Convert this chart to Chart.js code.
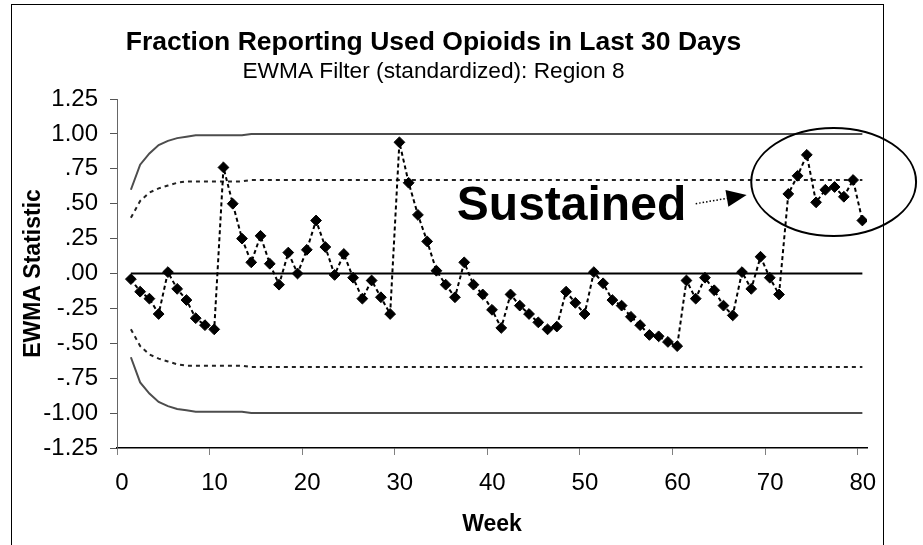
<!DOCTYPE html>
<html lang="en">

<head>
  <meta charset="UTF-8">
  <title>Fraction Reporting Used Opioids in Last 30 Days</title>
  <script src="https://cdn.jsdelivr.net/npm/chart.js"></script>
  <style>
    html, body { margin: 0; padding: 0; background: #fff; }
  </style>
</head>

<body>
  <canvas id="ewma-chart" width="923" height="545"></canvas>

  <script>
    // weeks 1..80
    const weeks = [
      1, 2, 3, 4, 5, 6, 7, 8, 9, 10, 11, 12, 13, 14, 15, 16, 17, 18, 19, 20,
      21, 22, 23, 24, 25, 26, 27, 28, 29, 30, 31, 32, 33, 34, 35, 36, 37, 38, 39, 40,
      41, 42, 43, 44, 45, 46, 47, 48, 49, 50, 51, 52, 53, 54, 55, 56, 57, 58, 59, 60,
      61, 62, 63, 64, 65, 66, 67, 68, 69, 70, 71, 72, 73, 74, 75, 76, 77, 78, 79, 80
    ];

    // standardized EWMA statistic, one value per week
    const ewma = [
      -0.04, -0.13, -0.18, -0.29, 0.01, -0.11, -0.19, -0.32, -0.37, -0.40,
      0.76, 0.50, 0.25, 0.08, 0.27, 0.07, -0.08, 0.15, 0.00, 0.17,
      0.38, 0.19, -0.01, 0.14, -0.03, -0.18, -0.05, -0.17, -0.29, 0.94,
      0.65, 0.42, 0.23, 0.02, -0.08, -0.17, 0.08, -0.08, -0.15, -0.26,
      -0.39, -0.15, -0.23, -0.29, -0.35, -0.40, -0.38, -0.13, -0.21, -0.29,
      0.01, -0.07, -0.19, -0.23, -0.31, -0.37, -0.44, -0.45, -0.49, -0.52,
      -0.05, -0.18, -0.03, -0.12, -0.23, -0.30, 0.01, -0.11, 0.12, -0.03,
      -0.15, 0.57, 0.70, 0.85, 0.51, 0.60, 0.62, 0.55, 0.67, 0.38
    ];

    // control limits: the curves only change over the first weeks, then stay flat
    const limitWeeks = [1, 2, 3, 4, 5, 6, 7, 8, 13, 14, 80];
    const upperOuter = [0.60, 0.78, 0.86, 0.92, 0.95, 0.97, 0.98, 0.99, 0.99, 1.00, 1.00];
    const upperInner = [0.40, 0.52, 0.58, 0.61, 0.63, 0.65, 0.66, 0.66, 0.66, 0.67, 0.67];
    const lowerInner = [-0.40, -0.52, -0.58, -0.61, -0.63, -0.65, -0.66, -0.66, -0.66, -0.67, -0.67];
    const lowerOuter = [-0.60, -0.78, -0.86, -0.92, -0.95, -0.97, -0.98, -0.99, -0.99, -1.00, -1.00];
    const centerLine = 0;

    const xTicks = [0, 10, 20, 30, 40, 50, 60, 70, 80];
    const yTicks = [-1.25, -1.00, -0.75, -0.50, -0.25, 0.00, 0.25, 0.50, 0.75, 1.00, 1.25];

    // each week sits in the middle of its slot on the axis
    const SLOT = 0.5;
    const FONT = "'Liberation Sans', Arial, sans-serif";

    function toPoints(xs, ys) {
      return xs.map((w, i) => ({ x: w + SLOT, y: ys[i] }));
    }

    // excel style labels: .75, -.25, 1.00
    function fmtY(v) {
      return v.toFixed(2).replace(/^(-?)0\./, '$1.');
    }

    // outer frame + "Sustained" callout
    const extras = {
      id: 'extras',
      beforeDraw(chart) {
        const ctx = chart.ctx;
        ctx.save();
        ctx.strokeStyle = '#000';
        ctx.lineWidth = 1;
        ctx.strokeRect(11.5, 4.5, 872, 600);
        ctx.restore();
      },
      afterDatasetsDraw(chart) {
        const { ctx, scales: { x, y } } = chart;
        ctx.save();
        ctx.fillStyle = '#000';
        ctx.strokeStyle = '#000';

        ctx.font = 'bold 48px ' + FONT;
        ctx.textBaseline = 'alphabetic';
        ctx.fillText('Sustained', x.getPixelForValue(36.7), y.getPixelForValue(0.384));

        // dotted arrow
        const x1 = x.getPixelForValue(62.5), y1 = y.getPixelForValue(0.50);
        const x2 = x.getPixelForValue(68.0), y2 = y.getPixelForValue(0.563);
        const ang = Math.atan2(y2 - y1, x2 - x1);
        const bx = x2 - 20 * Math.cos(ang), by = y2 - 20 * Math.sin(ang);
        ctx.lineWidth = 1.5;
        ctx.setLineDash([1.5, 2]);
        ctx.beginPath();
        ctx.moveTo(x1, y1);
        ctx.lineTo(bx, by);
        ctx.stroke();
        ctx.setLineDash([]);
        ctx.beginPath();
        ctx.moveTo(x2, y2);
        ctx.lineTo(bx + 8.5 * Math.sin(ang), by - 8.5 * Math.cos(ang));
        ctx.lineTo(bx - 8.5 * Math.sin(ang), by + 8.5 * Math.cos(ang));
        ctx.closePath();
        ctx.fill();

        // ellipse round the last weeks
        const cx = x.getPixelForValue(77.4), cy = y.getPixelForValue(0.656);
        const rx = x.getPixelForValue(77.4 + 8.9) - cx;
        const ry = cy - y.getPixelForValue(0.656 + 0.387);
        ctx.lineWidth = 2;
        ctx.beginPath();
        ctx.ellipse(cx, cy, rx, ry, 0, 0, Math.PI * 2);
        ctx.stroke();
        ctx.restore();
      }
    };

    Chart.defaults.font.family = FONT;
    Chart.defaults.color = '#000';

    const limitLine = (data, color, dash) => ({
      data: data,
      showLine: true,
      borderColor: color,
      borderWidth: 2,
      borderDash: dash,
      pointRadius: 0,
      tension: 0
    });

    new Chart(document.getElementById('ewma-chart'), {
      type: 'scatter',
      data: {
        datasets: [
          {
            label: 'EWMA',
            data: toPoints(weeks, ewma),
            showLine: true,
            borderColor: '#000',
            borderWidth: 2,
            borderDash: [4, 3],
            pointStyle: 'rectRot',
            pointRadius: 5.4,
            pointBorderWidth: 1,
            pointBackgroundColor: '#000',
            pointBorderColor: '#000'
          },
          limitLine([
            { x: weeks[0] + SLOT, y: centerLine },
            { x: weeks[weeks.length - 1] + SLOT, y: centerLine }
          ], '#000', []),
          limitLine(toPoints(limitWeeks, upperInner), '#222', [4, 4]),
          limitLine(toPoints(limitWeeks, lowerInner), '#222', [4, 4]),
          limitLine(toPoints(limitWeeks, upperOuter), '#4d4d4d', []),
          limitLine(toPoints(limitWeeks, lowerOuter), '#4d4d4d', [])
        ]
      },
      options: {
        responsive: false,
        animation: false,
        layout: { padding: { left: 0, right: 56, top: 0, bottom: 0 } },
        plugins: {
          legend: { display: false },
          tooltip: { enabled: false },
          title: {
            display: true,
            text: 'Fraction Reporting Used Opioids in Last 30 Days',
            font: { size: 26.5, weight: 'bold' },
            padding: { top: 26.4, bottom: 0 }
          },
          subtitle: {
            display: true,
            text: 'EWMA Filter (standardized): Region 8',
            font: { size: 22.7 },
            padding: { top: 0, bottom: 13.6 }
          }
        },
        scales: {
          x: {
            type: 'linear',
            min: 0,
            max: 81,
            afterBuildTicks: s => { s.ticks = xTicks.map(v => ({ value: v })); },
            afterFit: s => { s.height = 97; },
            ticks: { font: { size: 24 }, padding: 14, labelOffset: 5 },
            grid: { drawOnChartArea: false, tickLength: 7, tickColor: '#808080' },
            border: { color: '#000', width: 1.5 },
            title: {
              display: true,
              text: 'Week',
              font: { size: 23, weight: 'bold' },
              padding: { top: 0, bottom: 7 }
            }
          },
          y: {
            min: -1.25,
            max: 1.25,
            afterBuildTicks: s => { s.ticks = yTicks.map(v => ({ value: v })); },
            afterFit: s => { s.width = 117; },
            ticks: { font: { size: 24 }, padding: 12, callback: v => fmtY(v) },
            grid: { drawOnChartArea: false, tickLength: 7, tickColor: '#555' },
            border: { color: '#666', width: 1 },
            title: {
              display: true,
              text: 'EWMA Statistic',
              font: { size: 23, weight: 'bold' },
              padding: { top: 19.5, bottom: 0 }
            }
          }
        }
      },
      plugins: [extras]
    });
  </script>
</body>

</html>
